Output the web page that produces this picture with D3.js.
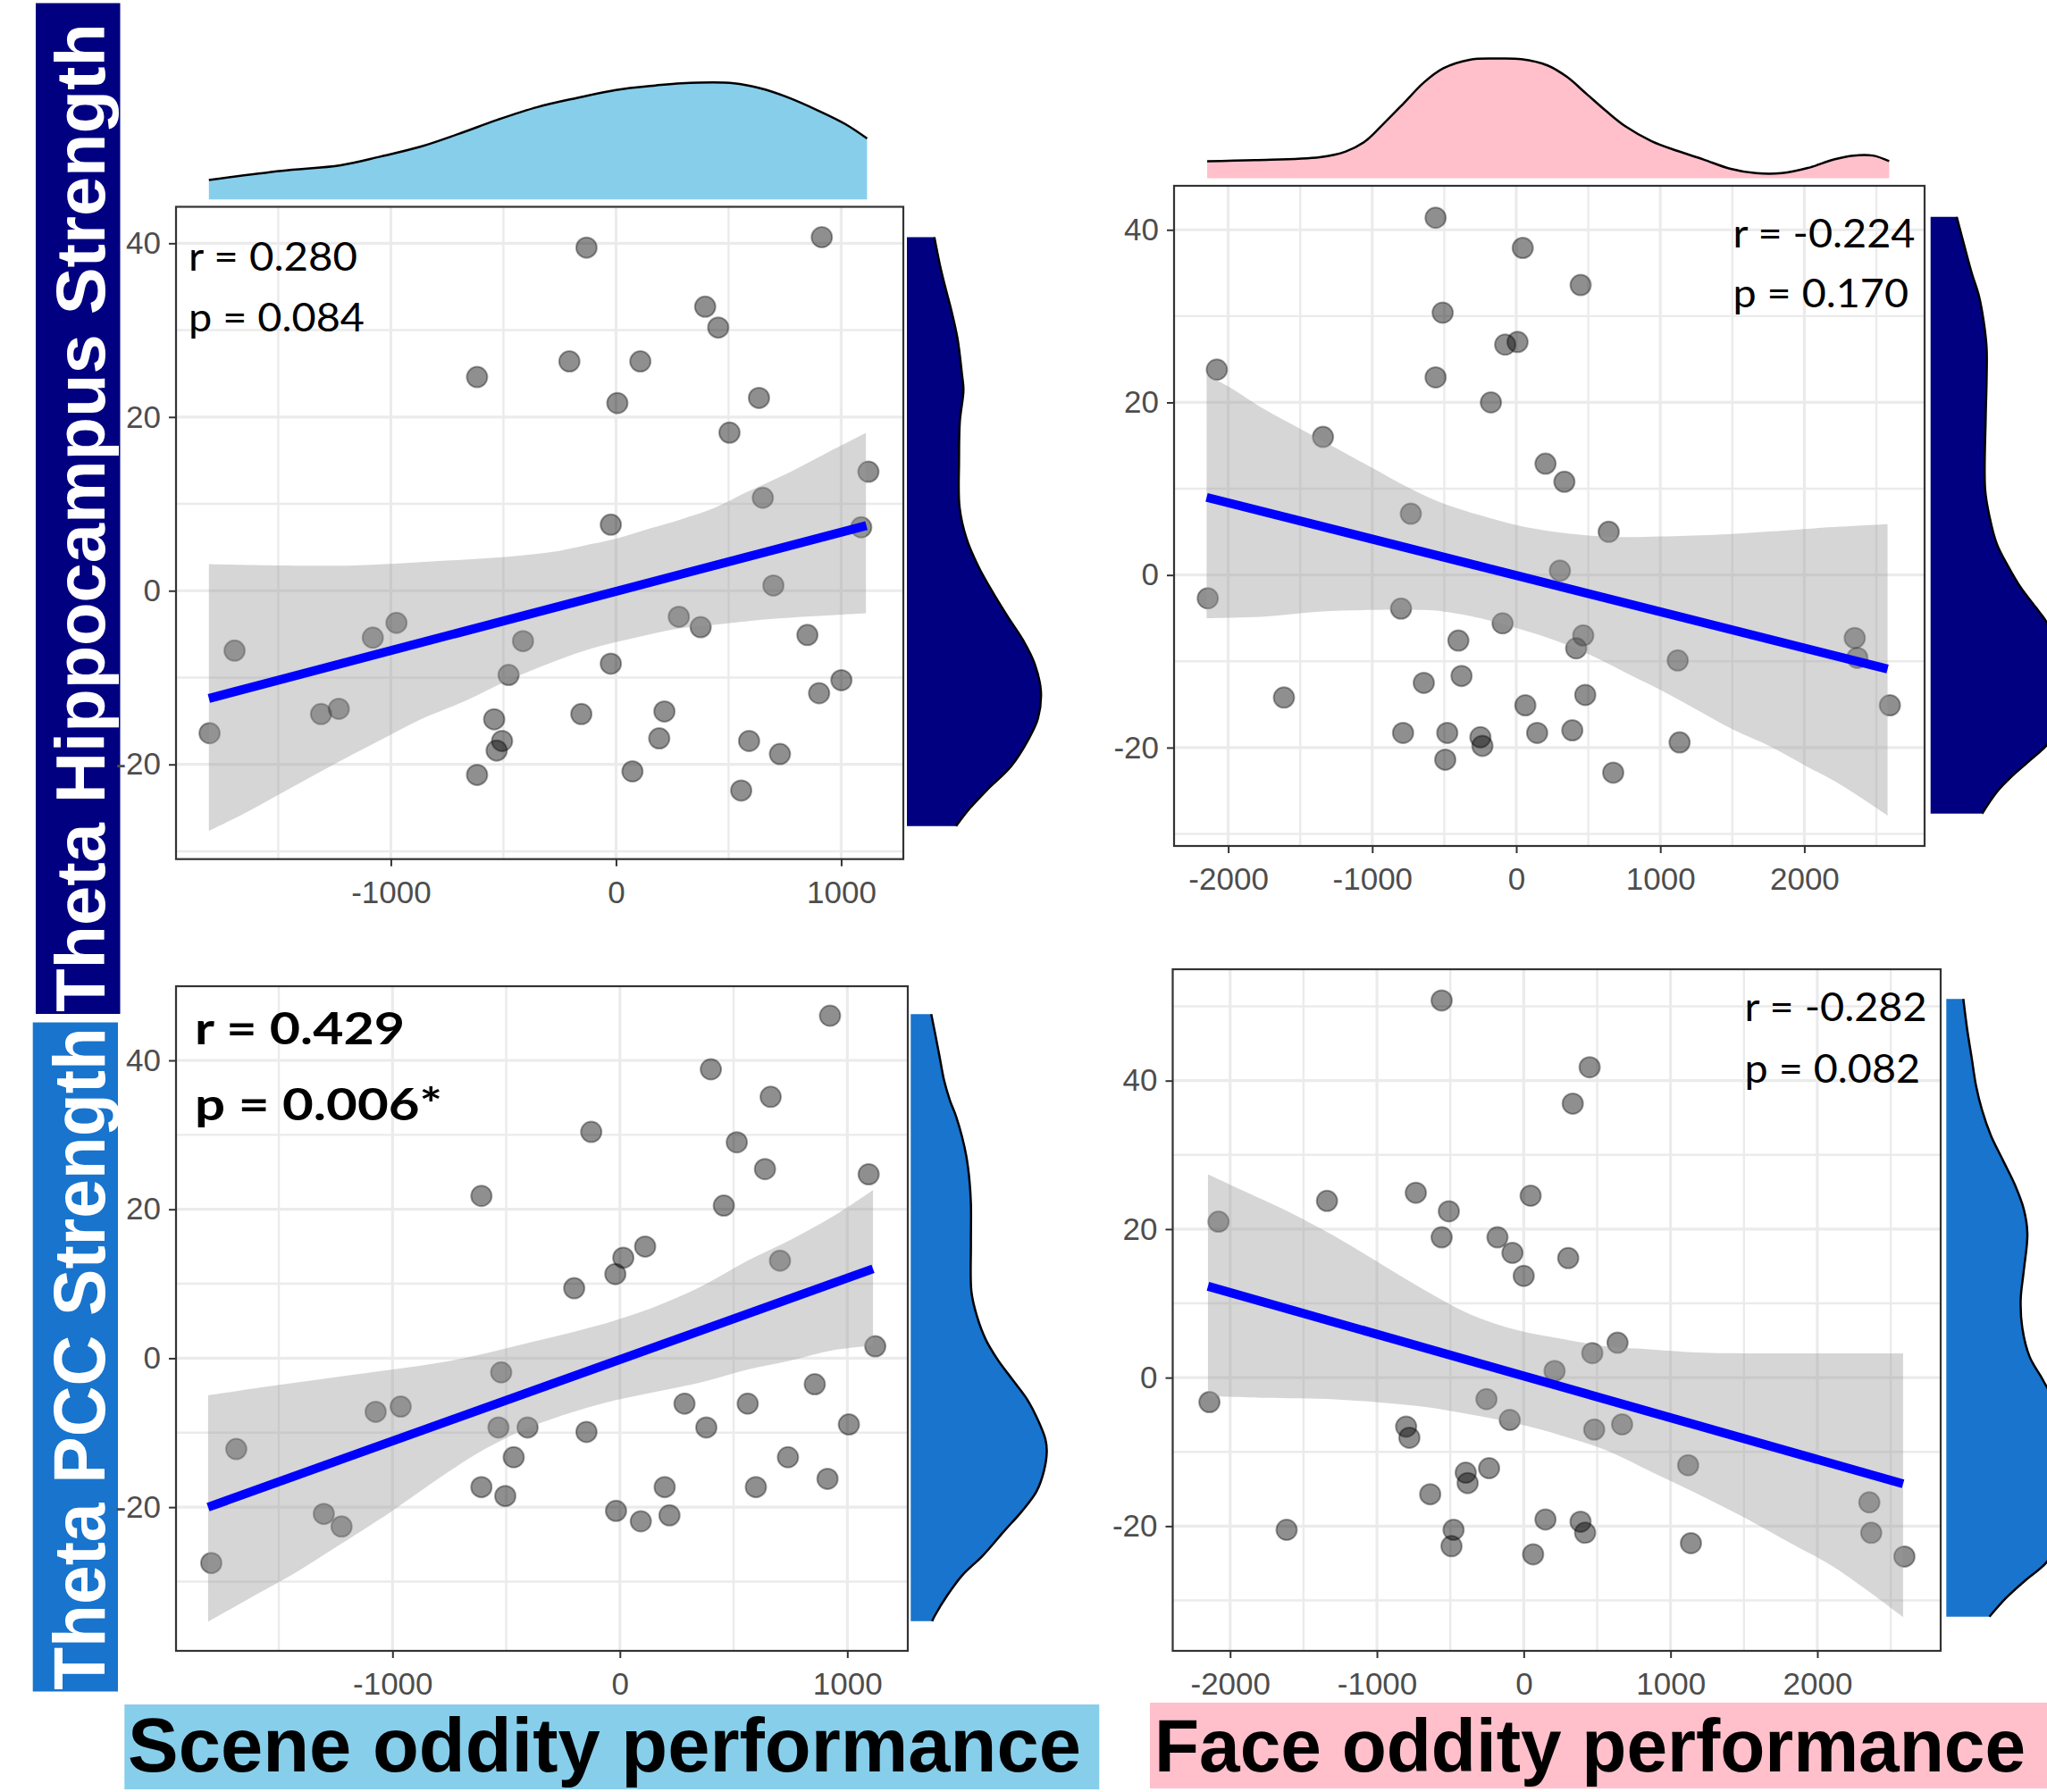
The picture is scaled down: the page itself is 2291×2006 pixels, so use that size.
<!DOCTYPE html>
<html>
<head>
<meta charset="utf-8">
<script src="https://cdn.jsdelivr.net/npm/d3@7"></script>
<style>
  body { margin: 0; background: #fff; }
  svg { display: block; }
</style>
</head>
<body>
<div id="chart"></div>
<script>
// ---------- data ----------
// scene oddity performance vs theta hippocampus strength
const tlX = [-131, 914, 396, 454, -207, 108, -617, 6, 635, 504, 1121, 652, 1089, -23, 699, 279, 376, -975, -1080, -413, 850, -1694, -23, -477, 1001, 902, -1310, -1231, -154, 215, -541, -1805, -506, 192, 591, 728, -530, -617, 73, 556];
const tlY = [39.5, 40.7, 32.7, 30.3, 26.4, 26.4, 24.6, 21.6, 22.2, 18.2, 13.7, 10.7, 7.3, 7.6, 0.6, -3.0, -4.2, -3.7, -5.4, -5.8, -5.1, -6.9, -8.4, -9.7, -10.3, -11.8, -14.2, -13.6, -14.2, -13.9, -14.8, -16.4, -17.3, -17.0, -17.3, -18.8, -18.4, -21.2, -20.8, -23.0];
// face oddity performance vs theta hippocampus strength
const trX = [-560, 45, 447, -511, -77, 9, -2079, -560, -176, -1342, 203, 334, -732, 642, 303, -2142, -800, -95, 465, -402, 416, 2350, 2368, 1121, -380, -642, -1613, 479, 63, 2594, -786, -479, 145, 389, -249, -235, 1134, -493, 673];
const trY = [41.4, 37.9, 33.6, 30.4, 26.7, 27.0, 23.8, 22.9, 20.0, 16.0, 12.9, 10.8, 7.1, 5.0, 0.5, -2.7, -3.9, -5.6, -7.0, -7.6, -8.5, -7.3, -9.6, -9.9, -11.7, -12.5, -14.2, -13.9, -15.1, -15.1, -18.3, -18.3, -18.3, -18.0, -18.8, -19.8, -19.4, -21.4, -22.9];
// scene oddity performance vs theta PCC strength
const blX = [924, 400, 663, -126, 514, 638, 1094, -609, 457, 111, 15, -20, 704, -201, 1123, -522, 857, 284, 562, -1074, -964, -534, -406, 380, 1007, -147, -1687, -467, 739, 913, -609, 197, 598, -504, -1302, -17, 218, -1224, 92, -1797];
const blY = [46.0, 38.8, 35.1, 30.4, 29.0, 25.4, 24.7, 21.8, 20.5, 15.0, 13.5, 11.3, 13.1, 9.4, 1.6, -1.9, -3.5, -6.1, -6.1, -7.2, -6.5, -9.3, -9.3, -9.3, -8.9, -9.9, -12.2, -13.3, -13.3, -16.2, -17.3, -17.3, -17.3, -18.5, -20.9, -20.5, -21.1, -22.6, -21.9, -27.5];
// face oddity performance vs theta PCC strength
const brX = [-559, 449, 334, -1340, -735, 47, -510, -2079, -559, -179, -77, 303, 0, 639, 467, 210, -2141, -254, -95, -801, -779, 480, 670, -236, -395, -382, 1120, -637, 2354, -1615, -478, 148, 387, 418, -492, 2367, 1139, 64, 2593];
const brY = [50.8, 41.8, 36.9, 23.8, 24.9, 24.5, 22.4, 21.0, 18.9, 18.9, 16.8, 16.1, 13.7, 4.7, 3.3, 0.9, -3.3, -2.9, -5.7, -6.6, -8.1, -7.0, -6.3, -12.2, -12.8, -14.2, -11.8, -15.7, -16.8, -20.5, -20.5, -19.1, -19.4, -20.9, -22.7, -20.9, -22.3, -23.8, -24.1];

// fitted lines (end points) and confidence bands
const tlFitX = [-1808, 1112], tlFitY = [-12.4, 7.5];
const trFitX = [-2150, 2578], trFitY = [9.0, -10.9];
const blFitX = [-1811, 1113], blFitY = [-20.0, 12.0];
const brFitX = [-2151, 2584], brFitY = [12.3, -14.3];

const tlHiX = [-1808, -1192, -788, -481, -288, -154, 0, 154, 288, 442, 577, 750, 904, 1110];
const tlHi  = [3.06, 2.89, 3.41, 3.92, 4.44, 5.13, 5.98, 7.19, 8.21, 9.59, 11.31, 13.37, 15.43, 18.17];
const tlLoX = [-1808, -1635, -1442, -1250, -1058, -865, -673, -481, -288, -96, 96, 288, 481, 673, 1110];
const tlLo  = [-27.67, -25.43, -22.69, -19.94, -17.36, -14.79, -12.73, -10.33, -8.27, -6.55, -5.35, -4.32, -3.8, -3.29, -2.6];

const trHiX = [-2150, -2000, -1750, -1500, -1250, -1000, -750, -500, -250, 0, 250, 500, 750, 1000, 1375, 1750, 2000, 2250, 2578];
const trHi  = [23.19, 21.87, 19.22, 16.95, 14.68, 12.41, 10.14, 8.25, 6.92, 5.79, 5.03, 4.58, 4.39, 4.46, 4.65, 5.03, 5.33, 5.6, 5.9];
const trLoX = [-2150, -1750, -1375, -1000, -656, -500, -250, 0, 250, 500, 750, 1000, 1250, 1500, 1750, 2000, 2250, 2578];
const trLo  = [-4.99, -4.81, -4.24, -4.05, -4.05, -4.24, -4.99, -6.13, -7.45, -9.16, -11.24, -13.32, -15.59, -17.86, -19.75, -22.02, -24.29, -27.88];

const blHiX = [-1811, -1540, -1254, -1006, -777, -586, -395, -204, -13, 177, 368, 559, 750, 941, 1113];
const blHi  = [-4.99, -3.77, -2.55, -1.54, -0.53, 0.69, 2.11, 3.53, 5.15, 7.18, 9.81, 13.06, 15.9, 19.14, 22.59];
const blLoX = [-1811, -1636, -1445, -1254, -1006, -777, -586, -395, -204, -13, 177, 368, 559, 750, 941, 1113];
const blLo  = [-35.4, -32.36, -29.12, -25.47, -20.6, -15.73, -12.08, -9.25, -7.22, -5.6, -4.38, -3.16, -1.54, -0.32, 1.09, 1.7];

const brHiX = [-2151, -1909, -1599, -1289, -979, -669, -359, -50, 260, 570, 880, 1190, 1500, 1810, 2120, 2584];
const brHi  = [27.4, 25.16, 22.31, 19.06, 15.39, 11.73, 8.47, 6.43, 5.21, 4.19, 3.79, 3.38, 3.26, 3.26, 3.26, 3.26];
const brLoX = [-2151, -1754, -1289, -979, -669, -359, -50, 260, 570, 880, 1190, 1500, 1810, 2120, 2584];
const brLo  = [-2.52, -2.73, -2.93, -3.34, -3.95, -4.97, -6.19, -7.82, -9.85, -12.8, -15.7, -18.8, -22.2, -25.6, -32.25];

// marginal densities (relative height)
const sceneDensX = [-1808, -1485, -1223, -1048, -873, -699, -524, -349, -175, 0, 175, 291, 524, 640, 757, 902, 1019, 1115];
const sceneDensV = [0.167, 0.245, 0.294, 0.368, 0.451, 0.564, 0.687, 0.795, 0.873, 0.942, 0.981, 1.0, 1.0, 0.957, 0.883, 0.761, 0.648, 0.525];
const faceDensX = [-2146, -1817, -1365, -1184, -1048, -913, -777, -642, -506, -325, -145, 36, 217, 352, 488, 624, 759, 940, 1121, 1301, 1482, 1663, 1844, 2024, 2205, 2341, 2476, 2589];
const faceDensV = [0.143, 0.152, 0.176, 0.224, 0.31, 0.467, 0.633, 0.8, 0.919, 0.99, 1.0, 0.995, 0.943, 0.847, 0.705, 0.562, 0.433, 0.31, 0.228, 0.157, 0.081, 0.043, 0.043, 0.086, 0.157, 0.19, 0.19, 0.143];

const tlSideY = [40.7, 37.6, 34.9, 32.2, 29.0, 24.9, 23.1, 19.5, 15.0, 9.6, 6.0, 2.8, -0.3, -3.0, -5.7, -8.4, -11.6, -14.7, -17.0, -20.2, -22.9, -25.1, -27.1];
const tlSideV = [0.205, 0.245, 0.287, 0.333, 0.378, 0.411, 0.422, 0.395, 0.389, 0.393, 0.445, 0.533, 0.645, 0.753, 0.867, 0.953, 1.0, 0.978, 0.911, 0.778, 0.6, 0.467, 0.367];
const trSideY = [41.5, 38.2, 35.0, 32.27, 29.53, 26.34, 22.69, 18.14, 9.94, 6.75, 3.56, 0.83, -1.46, -3.74, -5.55, -9.02, -13.16, -16.78, -19.68, -21.5, -23.32, -25.14, -27.65];
const trSideV = [0.195, 0.251, 0.307, 0.362, 0.395, 0.418, 0.418, 0.411, 0.407, 0.44, 0.495, 0.585, 0.673, 0.785, 0.869, 0.967, 1.033, 0.987, 0.869, 0.74, 0.607, 0.495, 0.385];
const blSideY = [46.2, 43.6, 40.5, 37.3, 34.6, 32.5, 29.8, 27.1, 23.9, 20.7, 15.3, 8.9, 5.7, 2.5, -0.2, -2.9, -5.6, -8.3, -10.9, -12.5, -15.2, -17.9, -20.6, -23.3, -26.5, -29.2, -31.9, -34.5, -35.3];
const blSideV = [0.153, 0.182, 0.215, 0.249, 0.293, 0.338, 0.382, 0.415, 0.438, 0.449, 0.449, 0.453, 0.493, 0.56, 0.649, 0.76, 0.871, 0.949, 1.005, 1.015, 0.993, 0.938, 0.827, 0.693, 0.538, 0.382, 0.271, 0.182, 0.16];
const brSideY = [51.0, 47.0, 43.1, 39.3, 36.0, 32.6, 29.3, 26.0, 22.7, 19.4, 14.4, 10.5, 6.7, 2.8, 0.0, -1.3, -5.8, -11.8, -17.8, -22.0, -24.8, -27.5, -29.7, -32.2];
const brSideV = [0.127, 0.155, 0.189, 0.222, 0.267, 0.333, 0.422, 0.511, 0.578, 0.605, 0.578, 0.555, 0.567, 0.622, 0.711, 0.751, 0.9, 1.0, 0.947, 0.833, 0.751, 0.578, 0.445, 0.322];

// ticks
const sceneTicks = [-1000, 0, 1000];
const sceneMinor = [-1500, -500, 500];
const faceTicks = [-2000, -1000, 0, 1000, 2000];
const faceMinor = [-1500, -500, 500, 1500, 2500];
const strengthTicks = [-20, 0, 20, 40];
const strengthMinor = [-30, -10, 10, 30];
const strengthMinorBR = [-30, -10, 10, 30, 50];

// texts
const tlStats = ["r = 0.280", "p = 0.084"];
const trStats = ["r = -0.224", "p = 0.170"];
const blStats = ["r = 0.429", "p = 0.006*"];
const brStats = ["r = -0.282", "p = 0.082"];
const rowLabels = ["Theta Hippocampus Strength", "Theta PCC Strength"];
const colLabels = ["Scene oddity performance", "Face oddity performance"];

// ---------- layout ----------
const width = 2291, height = 2006;
const navy = "#000080", pccBlue = "#1874cd";
const sky = "#87ceeb", pink = "#ffc0cb";
const tickFont = "'Liberation Sans', Arial, sans-serif";

const svg = d3.select("#chart").append("svg")
  .attr("width", width)
  .attr("height", height)
  .attr("viewBox", [0, 0, width, height])
  .style("background", "#fff");

// row / column label boxes
svg.append("rect").attr("x", 40).attr("y", 3.5).attr("width", 94.5).attr("height", 1131.5).attr("fill", navy);
svg.append("rect").attr("x", 36.7).attr("y", 1144.5).attr("width", 95.3).attr("height", 749).attr("fill", pccBlue);
svg.append("rect").attr("x", 139.3).attr("y", 1908).attr("width", 1091).attr("height", 95).attr("fill", sky);
svg.append("rect").attr("x", 1287).attr("y", 1906).attr("width", 1004).attr("height", 96).attr("fill", pink);

svg.append("text")
  .attr("transform", "translate(117.3,1133) rotate(-90)")
  .attr("font-family", tickFont).attr("font-weight", "bold").attr("font-size", 77)
  .attr("fill", "#fff").attr("textLength", 1107).attr("lengthAdjust", "spacingAndGlyphs")
  .text(rowLabels[0]);
svg.append("text")
  .attr("transform", "translate(117.3,1892) rotate(-90)")
  .attr("font-family", tickFont).attr("font-weight", "bold").attr("font-size", 82)
  .attr("fill", "#fff").attr("textLength", 742).attr("lengthAdjust", "spacingAndGlyphs")
  .text(rowLabels[1]);
svg.append("text")
  .attr("x", 143).attr("y", 1983)
  .attr("font-family", tickFont).attr("font-weight", "bold").attr("font-size", 85)
  .attr("fill", "#000").attr("textLength", 1067).attr("lengthAdjust", "spacingAndGlyphs")
  .text(colLabels[0]);
svg.append("text")
  .attr("x", 1292).attr("y", 1983)
  .attr("font-family", tickFont).attr("font-weight", "bold").attr("font-size", 83)
  .attr("fill", "#000").attr("textLength", 975).attr("lengthAdjust", "spacingAndGlyphs")
  .text(colLabels[1]);

const panels = [
  { left: 197, right: 1011, top: 231.5, bottom: 961.7, xDomain: [-1954, 1276], yDomain: [-30.9, 44.2],
    xTicks: sceneTicks, xMinor: sceneMinor, yTicks: strengthTicks, yMinor: strengthMinor,
    px: tlX, py: tlY, fitX: tlFitX, fitY: tlFitY, hiX: tlHiX, hi: tlHi, loX: tlLoX, lo: tlLo,
    stats: tlStats, statX: 211, statY: [303, 371], statLen: [189, 197], bold: false,
    top2: { x: sceneDensX, v: sceneDensV, base: 223.2, peak: 93.2, fill: sky },
    side: { y: tlSideY, v: tlSideV, base: 1015, fill: navy } },
  { left: 1314, right: 2154, top: 208, bottom: 947, xDomain: [-2376, 2835], yDomain: [-31.4, 45.1],
    xTicks: faceTicks, xMinor: faceMinor, yTicks: strengthTicks, yMinor: strengthMinor,
    px: trX, py: trY, fitX: trFitX, fitY: trFitY, hiX: trHiX, hi: trHi, loX: trLoX, lo: trLo,
    stats: trStats, statX: 1939.5, statY: [277, 344], statLen: [204, 196.5], bold: false,
    top2: { x: faceDensX, v: faceDensV, base: 199.6, peak: 65.6, fill: pink },
    side: { y: trSideY, v: trSideV, base: 2160.7, fill: navy } },
  { left: 197, right: 1016, top: 1104, bottom: 1848, xDomain: [-1952, 1266], yDomain: [-39.3, 49.96],
    xTicks: sceneTicks, xMinor: sceneMinor, yTicks: strengthTicks, yMinor: strengthMinor,
    px: blX, py: blY, fitX: blFitX, fitY: blFitY, hiX: blHiX, hi: blHi, loX: blLoX, lo: blLo,
    stats: blStats, statX: 218, statY: [1169, 1254], statLen: [235, 277], bold: true,
    side: { y: blSideY, v: blSideV, base: 1019.3, fill: pccBlue } },
  { left: 1312.5, right: 2172, top: 1085, bottom: 1848, xDomain: [-2391, 2840], yDomain: [-36.8, 55.0],
    xTicks: faceTicks, xMinor: faceMinor, yTicks: strengthTicks, yMinor: strengthMinorBR,
    px: brX, py: brY, fitX: brFitX, fitY: brFitY, hiX: brHiX, hi: brHi, loX: brLoX, lo: brLo,
    stats: brStats, statX: 1952.6, statY: [1143, 1211.6], statLen: [204, 196.5], bold: false,
    side: { y: brSideY, v: brSideV, base: 2178.3, fill: pccBlue } }
];

panels.forEach(p => {
  const x = d3.scaleLinear().domain(p.xDomain).range([p.left, p.right]);
  const y = d3.scaleLinear().domain(p.yDomain).range([p.bottom, p.top]);
  const g = svg.append("g");

  // grid lines
  const grid = g.append("g").attr("stroke", "#ebebeb");
  grid.selectAll(".gxm").data(p.xMinor).join("line")
    .attr("x1", d => x(d)).attr("x2", d => x(d)).attr("y1", p.top).attr("y2", p.bottom)
    .attr("stroke-width", 2.4);
  grid.selectAll(".gym").data(p.yMinor).join("line")
    .attr("y1", d => y(d)).attr("y2", d => y(d)).attr("x1", p.left).attr("x2", p.right)
    .attr("stroke-width", 2.4);
  grid.selectAll(".gx").data(p.xTicks).join("line")
    .attr("x1", d => x(d)).attr("x2", d => x(d)).attr("y1", p.top).attr("y2", p.bottom)
    .attr("stroke-width", 3.2);
  grid.selectAll(".gy").data(p.yTicks).join("line")
    .attr("y1", d => y(d)).attr("y2", d => y(d)).attr("x1", p.left).attr("x2", p.right)
    .attr("stroke-width", 3.2);

  // points
  g.append("g").selectAll("circle")
    .data(d3.zip(p.px, p.py))
    .join("circle")
    .attr("cx", d => x(d[0]))
    .attr("cy", d => y(d[1]))
    .attr("r", 11.5)
    .attr("fill", "#000").attr("fill-opacity", 0.44)
    .attr("stroke", "#000").attr("stroke-opacity", 0.35).attr("stroke-width", 2);

  // confidence band
  const edge = d3.line().x(d => x(d[0])).y(d => y(d[1])).curve(d3.curveCatmullRom);
  const hiPath = edge(d3.zip(p.hiX, p.hi));
  const loPath = edge(d3.zip(p.loX, p.lo).reverse());
  g.append("path")
    .attr("d", hiPath + "L" + loPath.slice(1) + "Z")
    .attr("fill", "#999").attr("fill-opacity", 0.4);

  // fitted line
  g.append("path")
    .attr("d", d3.line().x(d => x(d[0])).y(d => y(d[1]))(d3.zip(p.fitX, p.fitY)))
    .attr("stroke", "#0000ff").attr("stroke-width", 10).attr("fill", "none");

  // panel border
  g.append("rect")
    .attr("x", p.left).attr("y", p.top)
    .attr("width", p.right - p.left).attr("height", p.bottom - p.top)
    .attr("fill", "none").attr("stroke", "#333").attr("stroke-width", 2.2);

  // axes
  g.append("g")
    .attr("transform", `translate(0,${p.bottom})`)
    .call(d3.axisBottom(x).tickValues(p.xTicks).tickFormat(d => String(d))
      .tickSizeInner(8).tickSizeOuter(0).tickPadding(16))
    .call(a => a.select(".domain").remove())
    .call(a => a.selectAll("line").attr("stroke", "#333").attr("stroke-width", 2))
    .call(a => a.selectAll("text").attr("fill", "#4d4d4d"))
    .attr("font-size", 35).attr("font-family", tickFont);

  g.append("g")
    .attr("transform", `translate(${p.left},0)`)
    .call(d3.axisLeft(y).tickValues(p.yTicks).tickFormat(d => String(d))
      .tickSizeInner(8).tickSizeOuter(0).tickPadding(9))
    .call(a => a.select(".domain").remove())
    .call(a => a.selectAll("line").attr("stroke", "#333").attr("stroke-width", 2))
    .call(a => a.selectAll("text").attr("fill", "#4d4d4d"))
    .attr("font-size", 35).attr("font-family", tickFont);

  // correlation text
  p.stats.forEach((s, i) => {
    g.append("text")
      .attr("x", p.statX).attr("y", p.statY[i])
      .attr("font-family", "Lato, 'Open Sans', sans-serif")
      .attr("font-weight", p.bold ? 700 : 400)
      .attr("font-size", p.bold ? 50 : 45)
      .attr("fill", "#000")
      .attr("textLength", p.statLen[i]).attr("lengthAdjust", "spacingAndGlyphs")
      .text(s);
  });

  // top marginal density
  if (p.top2) {
    const t = p.top2;
    const h = d3.scaleLinear().domain([0, 1]).range([t.base, t.peak]);
    const pts = d3.zip(t.x, t.v);
    const curve = d3.line().x(d => x(d[0])).y(d => h(d[1])).curve(d3.curveCatmullRom)(pts);
    const x0 = x(t.x[0]), x1 = x(t.x[t.x.length - 1]);
    svg.append("path")
      .attr("d", `M${x0},${t.base}L` + curve.slice(1) + `L${x1},${t.base}Z`)
      .attr("fill", t.fill);
    svg.append("path").attr("d", curve)
      .attr("fill", "none").attr("stroke", "#000").attr("stroke-width", 2.5);
  }

  // right marginal density
  const s = p.side;
  const w = d3.scaleLinear().domain([0, 1]).range([s.base, s.base + 150]);
  const spts = d3.zip(s.y, s.v);
  const scurve = d3.line().x(d => w(d[1])).y(d => y(d[0])).curve(d3.curveCatmullRom)(spts);
  const y0 = y(s.y[0]), y1 = y(s.y[s.y.length - 1]);
  svg.append("path")
    .attr("d", `M${s.base},${y0}L` + scurve.slice(1) + `L${s.base},${y1}Z`)
    .attr("fill", s.fill);
  svg.append("path").attr("d", scurve)
    .attr("fill", "none").attr("stroke", "#000").attr("stroke-width", 2.5);
});
</script>
</body>
</html>
